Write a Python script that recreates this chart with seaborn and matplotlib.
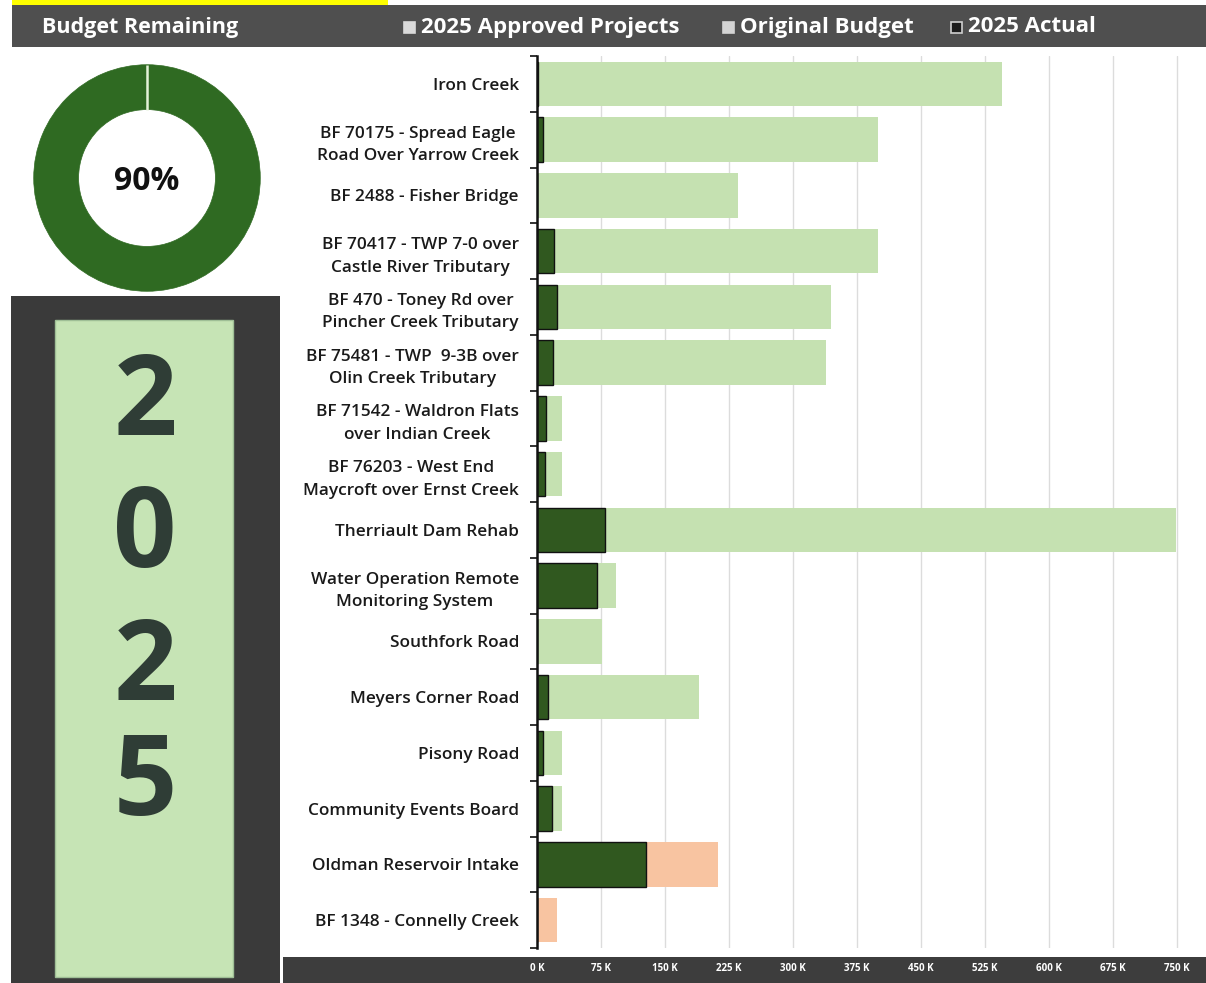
import matplotlib
matplotlib.use("Agg")
import matplotlib.pyplot as plt
import seaborn as sns
import pandas as pd
import numpy as np
from matplotlib.patches import Rectangle
from matplotlib.ticker import FixedLocator, FuncFormatter

# ---- data -------------------------------------------------------------
projects = [
    "Iron Creek",
    "BF 70175 - Spread Eagle\nRoad Over Yarrow Creek",
    "BF 2488 - Fisher Bridge",
    "BF 70417 - TWP 7-0 over\nCastle River Tributary",
    "BF 470 - Toney Rd over\nPincher Creek Tributary",
    "BF 75481 - TWP  9-3B over\nOlin Creek Tributary",
    "BF 71542 - Waldron Flats\nover Indian Creek",
    "BF 76203 - West End\nMaycroft over Ernst Creek",
    "Therriault Dam Rehab",
    "Water Operation Remote\nMonitoring System",
    "Southfork Road",
    "Meyers Corner Road",
    "Pisony Road",
    "Community Events Board",
    "Oldman Reservoir Intake",
    "BF 1348 - Connelly Creek",
]
budget = [545000, 400000, 236000, 400000, 345000, 339000, 29000, 29000,
          749000, 93000, 76000, 190000, 29000, 29000, 212000, 24000]
actual = [1500, 7000, 0, 20000, 23000, 19000, 11000, 9000,
          80000, 70000, 0, 13000, 7000, 17000, 128000, 0]
budget_type = ["Original Budget"] * 14 + ["2025 Approved Projects"] * 2

x_ticks = [0, 75000, 150000, 225000, 300000, 375000, 450000,
           525000, 600000, 675000, 750000]
legend_labels = ["2025 Approved Projects", "Original Budget", "2025 Actual"]
budget_remaining_pct = 90
year_digits = ["2", "0", "2", "5"]

df = pd.DataFrame({"project": projects, "budget": budget,
                   "actual": actual, "budget_type": budget_type})

# ---- style ------------------------------------------------------------
GREEN_LIGHT = "#c5e1b1"
ORANGE_LIGHT = "#f8c4a1"
GREEN_DARK = "#30581f"
DONUT_GREEN = "#2f6a22"
HEADER_GREY = "#4f4f4f"
PANEL_DARK = "#3a3a3a"

W, H, DPI = 1206, 983, 100
sns.set_theme(style="white")
plt.rcParams["font.family"] = ["Open Sans", "DejaVu Sans"]

fig = plt.figure(figsize=(W / DPI, H / DPI), dpi=DPI, facecolor="white")


def box(x0, y0, x1, y1):
    """Pixel box (origin top-left) to figure-fraction rect."""
    return [x0 / W, 1 - y1 / H, (x1 - x0) / W, (y1 - y0) / H]


def panel(x0, y0, x1, y1, color, edge="none", lw=0):
    fig.patches.append(Rectangle((x0 / W, 1 - y1 / H), (x1 - x0) / W, (y1 - y0) / H,
                                 transform=fig.transFigure, facecolor=color,
                                 edgecolor=edge, linewidth=lw, zorder=-5))


def fy(y):
    return 1 - y / H


# ---- page furniture ---------------------------------------------------
panel(12, 0, 388, 5, "#ffff00")
panel(12, 5, 1206, 47, HEADER_GREY)
panel(11, 296, 280, 983, PANEL_DARK)
panel(55, 320, 233, 977, "#c6e4b5", edge="#9fbf96", lw=1.0)
panel(283, 957, 1206, 983, "#3d3d3d")

fig.text(42 / W, fy(27), "Budget Remaining", color="white", fontsize=15.5,
         fontweight="bold", va="center", ha="left")

legend_markers = [("#dadada", "#dadada"), ("#d4d4d4", "#d4d4d4"), ("#1c1c1c", "#cfcfcf")]
legend_x = [404, 723, 951]
for (fc, ec), lx, lab in zip(legend_markers, legend_x, legend_labels):
    fig.patches.append(Rectangle((lx / W, fy(33)), 11 / W, 11 / H,
                                 transform=fig.transFigure, facecolor=fc,
                                 edgecolor=ec, linewidth=1.2, zorder=2))
    fig.text((lx + 17) / W, fy(27), lab, color="white", fontsize=16,
             fontweight="bold", va="center", ha="left")

# ---- donut ------------------------------------------------------------
R_OUT, RING_W = 0.985, 0.39
dax = fig.add_axes(box(32, 63, 262, 293))
dax.pie([budget_remaining_pct], colors=[DONUT_GREEN], startangle=90,
        radius=R_OUT, counterclock=False,
        wedgeprops=dict(width=RING_W, edgecolor=DONUT_GREEN, linewidth=0.5))
# slice seam at twelve o'clock
dax.plot([0, 0], [R_OUT - RING_W, R_OUT], color="#e4f2d8", linewidth=1.8,
         solid_capstyle="butt")
dax.set_xlim(-1, 1)
dax.set_ylim(-1, 1)
dax.set_aspect("equal")
dax.axis("off")
fig.text(147 / W, fy(190), f"{budget_remaining_pct}%", fontsize=23,
         fontweight="bold", color="#111111", ha="center", va="baseline")

# ---- year column ------------------------------------------------------
for d, yb in zip(year_digits, [435, 567, 700, 815]):
    fig.text(145 / W, fy(yb), d, fontsize=80, fontweight="bold",
             color="#2f3d36", ha="center", va="baseline")

# ---- bar chart --------------------------------------------------------
ax = fig.add_axes(box(537, 56, 1206, 948))
ax.set_facecolor("none")

sns.barplot(data=df, y="project", x="budget", hue="budget_type",
            palette={"Original Budget": GREEN_LIGHT,
                     "2025 Approved Projects": ORANGE_LIGHT},
            dodge=False, width=0.8, saturation=1, legend=False,
            linewidth=0, ax=ax)
sns.barplot(data=df, y="project", x="actual", color=GREEN_DARK, width=0.8,
            saturation=1, edgecolor="#111111", linewidth=1.0, ax=ax)

ax.set_xlim(0, 784000)
ax.set_ylim(len(projects) - 0.5, -0.5)
ax.set_xlabel("")
ax.set_ylabel("")

ax.xaxis.set_major_locator(FixedLocator(x_ticks))
ax.xaxis.set_major_formatter(FuncFormatter(lambda v, _: f"{v / 1000:.0f} K"))
ax.tick_params(axis="x", length=0, pad=11, labelsize=7, labelcolor="white")
for t in ax.get_xticklabels():
    t.set_fontweight("bold")

ax.xaxis.grid(True, color="#dcdcdc", linewidth=1.0)
ax.yaxis.grid(False)
ax.set_axisbelow(True)

for side in ["top", "right", "bottom"]:
    ax.spines[side].set_visible(False)
ax.spines["left"].set_color("#111111")
ax.spines["left"].set_linewidth(1.8)

ax.yaxis.set_minor_locator(FixedLocator(np.arange(-0.5, len(projects), 1.0)))
ax.tick_params(axis="y", which="major", length=0, pad=13, labelsize=12.4,
               labelcolor="#1a1a1a")
ax.tick_params(axis="y", which="minor", left=True, length=5, width=1.2,
               color="#111111")
for t in ax.get_yticklabels():
    t.set_fontweight("semibold")
    t.set_multialignment("center")
    t.set_linespacing(1.55)

fig.savefig("out.png", dpi=DPI, facecolor="white")
